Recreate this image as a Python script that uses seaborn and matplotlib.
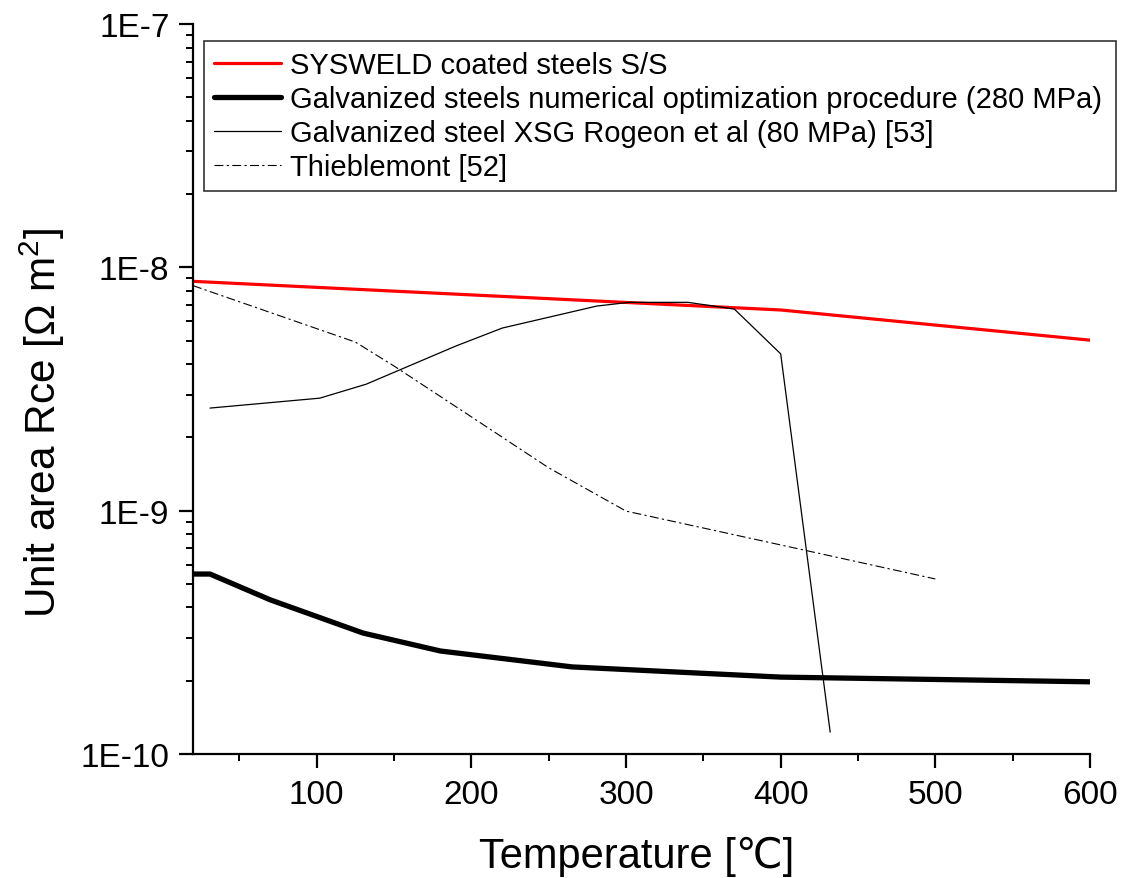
import matplotlib
matplotlib.use("Agg")
import matplotlib.pyplot as plt
import matplotlib.ticker as mticker
import numpy as np
import pandas as pd
import seaborn as sns

# Temperature [°C] and unit-area contact resistance [Ohm m^2]
sysweld_T = [20, 400, 600]
sysweld_R = [8.76e-9, 6.68e-9, 5.02e-9]

optim_T = [20, 31, 70, 130, 180, 265, 400, 600]
optim_R = [5.49e-10, 5.49e-10, 4.30e-10, 3.14e-10, 2.65e-10, 2.28e-10, 2.07e-10, 1.98e-10]

rogeon_T = [31, 102, 132, 190, 220, 281, 302, 340, 370, 400, 432]
rogeon_R = [2.64e-9, 2.90e-9, 3.31e-9, 4.75e-9, 5.63e-9, 6.93e-9, 7.18e-9, 7.18e-9, 6.74e-9, 4.41e-9, 1.23e-10]

thieb_T = [20, 125, 150, 200, 250, 300, 400, 500]
thieb_R = [8.41e-9, 4.93e-9, 3.93e-9, 2.43e-9, 1.50e-9, 9.96e-10, 7.23e-10, 5.24e-10]

labels = [
    "SYSWELD coated steels S/S",
    "Galvanized steels numerical optimization procedure (280 MPa)",
    "Galvanized steel XSG Rogeon et al (80 MPa) [53]",
    "Thieblemont [52]",
]
x_ticks = [100, 200, 300, 400, 500, 600]
y_ticks = [1e-10, 1e-9, 1e-8, 1e-7]
y_tick_labels = ["1E-10", "1E-9", "1E-8", "1E-7"]

sns.set_theme(style="white")
plt.rcParams["font.family"] = ["Liberation Sans", "DejaVu Sans"]
plt.rcParams["mathtext.fontset"] = "custom"
plt.rcParams["mathtext.rm"] = "Liberation Sans"
plt.rcParams["mathtext.it"] = "Liberation Sans:italic"
for key in ["text.color", "axes.labelcolor", "xtick.color", "ytick.color"]:
    plt.rcParams[key] = "black"

fig = plt.figure(figsize=(11.25, 8.79), dpi=100)
ax = fig.add_axes([193 / 1125, 1 - 755 / 879, 897 / 1125, 730 / 879])

series = [
    (sysweld_T, sysweld_R, dict(color="#ff0000", linewidth=2.3)),
    (optim_T, optim_R, dict(color="black", linewidth=3.8)),
    (rogeon_T, rogeon_R, dict(color="black", linewidth=0.9)),
    (thieb_T, thieb_R, dict(color="black", linewidth=0.8, dashes=(8, 3, 2, 3))),
]
for (xs, ys, style), lab in zip(series, labels):
    df = pd.DataFrame({"T": xs, "R": ys})
    kw = dict(style)
    dashes = kw.pop("dashes", None)
    line_ax = sns.lineplot(data=df, x="T", y="R", ax=ax, label=lab,
                           sort=False, estimator=None, **kw)
    if dashes is not None:
        line_ax.lines[-1].set_dashes(dashes)

ax.set_yscale("log")
ax.set_xlim(20, 600)
ax.set_ylim(1e-10, 1e-7)
ax.set_xticks(x_ticks)
ax.xaxis.set_minor_locator(mticker.MultipleLocator(50))
ax.set_yticks(y_ticks)
ax.set_yticklabels(y_tick_labels)
ax.yaxis.set_minor_locator(mticker.LogLocator(base=10, subs=np.arange(2, 10)))
ax.yaxis.set_minor_formatter(mticker.NullFormatter())

for side in ["top", "right"]:
    ax.spines[side].set_visible(False)
for side in ["left", "bottom"]:
    ax.spines[side].set_linewidth(1.6)
    ax.spines[side].set_color("black")

ax.tick_params(axis="both", which="major", direction="out", length=10, width=1.6,
               labelsize=24, colors="black", bottom=True, left=True)
ax.tick_params(axis="both", which="minor", direction="out", length=5, width=1.4,
               colors="black", bottom=True, left=True)
ax.tick_params(axis="x", which="major", pad=8)
ax.tick_params(axis="y", which="major", pad=7)

ax.set_xlabel("")
ax.set_ylabel("")
fig.text(637 / 1125, 1 - 857 / 879, "Temperature [℃]", fontsize=30,
         ha="center", va="center")
fig.text(42 / 1125, 1 - 423 / 879, r"Unit area Rce [Ω m$^{2}$]", fontsize=30.5,
         ha="center", va="center", rotation=90)

leg = ax.legend(loc="upper left",
                bbox_to_anchor=(204 / 1125, 1 - 42 / 879, (1116 - 204) / 1125, 0),
                bbox_transform=fig.transFigure, mode="expand", fontsize=21,
                frameon=True, fancybox=False, handlelength=2.3, handletextpad=0.3,
                labelspacing=0.2, borderpad=0.35, borderaxespad=0)
leg.get_frame().set_edgecolor("#333333")
leg.get_frame().set_linewidth(1.2)
leg.get_frame().set_facecolor("white")
leg.get_frame().set_alpha(1)

fig.savefig("out.png", dpi=100, facecolor="white")
